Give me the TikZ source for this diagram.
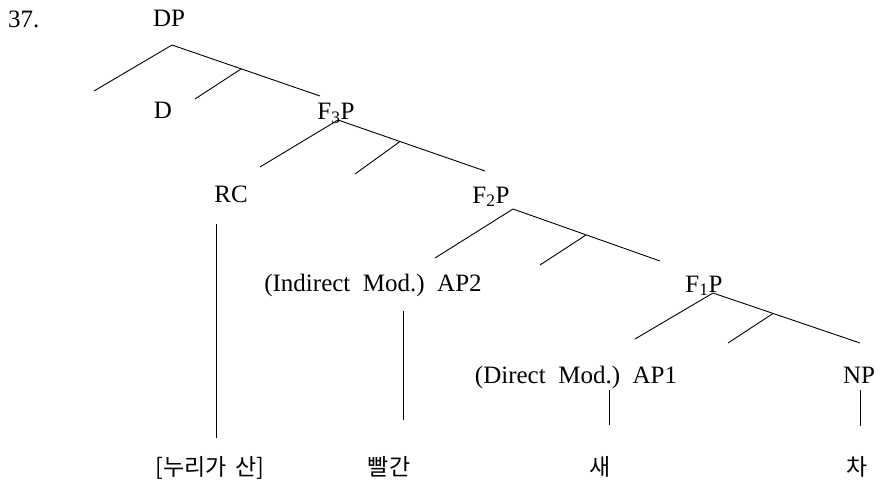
\documentclass[tikz,border=0pt]{standalone}
\usepackage{fontspec}
\setmainfont{Liberation Serif}
\newfontfamily\krfont{Noto Sans CJK KR}
\tikzset{
  lbl/.style={anchor=base, inner sep=0pt, font=\fontsize{25}{30}\selectfont},
  kr/.style={anchor=base, inner sep=0pt, font=\krfont\fontsize{23}{28}\selectfont},
  br/.style={line width=0.9pt, black},
}
\newcommand{\wsp}{\hspace{0.5em}}
\begin{document}
\begin{tikzpicture}[x=1pt,y=-1pt]
\useasboundingbox (0,0) rectangle (882,484);
% labels
\node[lbl, anchor=base west] (num) at (8,28) {37.};
\node[lbl] (DP) at (169,27) {DP};
\node[lbl] (D) at (163,118) {D};
\node[lbl] (F3P) at (336,120) {F\textsubscript{3}P};
\node[lbl] (RC) at (231,202) {RC};
\node[lbl] (F2P) at (491,203) {F\textsubscript{2}P};
\node[lbl] (AP2) at (373,291) {(Indirect\wsp Mod.)\wsp AP2};
\node[lbl] (F1P) at (704,292) {F\textsubscript{1}P};
\node[lbl] (AP1) at (576,383) {(Direct\wsp Mod.)\wsp AP1};
\node[lbl] (NP) at (859,383) {NP};
\node[kr] (w1) at (210,475) {[누리가\hspace{0.15em} 산]};
\node[kr] (w2) at (389,475) {빨간};
\node[kr] (w3) at (600,475) {새};
\node[kr] (w4) at (857,475) {차};
% DP
\coordinate (dpA) at (172,45);
\coordinate (dpL) at (94,91);
\coordinate (dpJ) at (241,69);
\coordinate (dpM) at (195,99);
\coordinate (dpR) at (320,96);
\draw[br] (dpL) -- (dpA) -- (dpR);
\draw[br] (dpJ) -- (dpM);
% F3P
\coordinate (f3A) at (338,120);
\coordinate (f3L) at (260,167);
\coordinate (f3J) at (400,141.5);
\coordinate (f3M) at (355,174);
\coordinate (f3R) at (485,171);
\draw[br] (f3L) -- (f3A) -- (f3R);
\draw[br] (f3J) -- (f3M);
% F2P
\coordinate (f2A) at (513,209);
\coordinate (f2L) at (435,258);
\coordinate (f2J) at (586,235);
\coordinate (f2M) at (540,265);
\coordinate (f2R) at (660,261);
\draw[br] (f2L) -- (f2A) -- (f2R);
\draw[br] (f2J) -- (f2M);
% F1P
\coordinate (f1A) at (713,293);
\coordinate (f1L) at (635,339);
\coordinate (f1J) at (773,313.5);
\coordinate (f1M) at (728,343);
\coordinate (f1R) at (860,343);
\draw[br] (f1L) -- (f1A) -- (f1R);
\draw[br] (f1J) -- (f1M);
% verticals
\coordinate (rcT) at (216,224);
\coordinate (rcB) at (216,438);
\draw[br] (rcT) -- (rcB);
\coordinate (ap2T) at (403,311);
\coordinate (ap2B) at (403,420);
\draw[br] (ap2T) -- (ap2B);
\coordinate (ap1T) at (609,390);
\coordinate (ap1B) at (609,425);
\draw[br] (ap1T) -- (ap1B);
\coordinate (npT) at (860,390);
\coordinate (npB) at (860,426);
\draw[br] (npT) -- (npB);
\end{tikzpicture}
\end{document}
